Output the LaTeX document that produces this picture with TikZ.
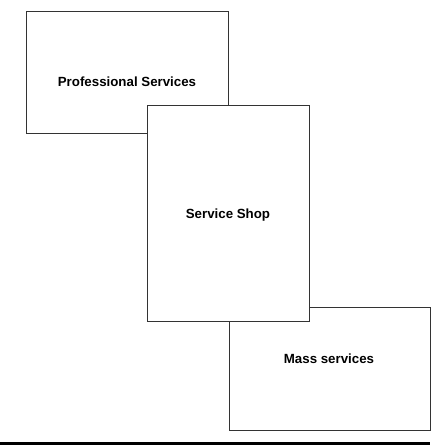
\documentclass[tikz,border=0pt]{standalone}
\usepackage{fontspec}
\setmainfont{Liberation Sans}

\begin{document}
\begin{tikzpicture}[x=1pt,y=1pt,line width=1pt,
  box/.style={draw=black!80,fill=white,inner sep=0pt},
  lbl/.style={font=\fontsize{13.3}{16}\selectfont\bfseries,anchor=base}]
\useasboundingbox (0,0) rectangle (433,445);
% ---------- professional services ----------
\node[box,minimum width=202pt,minimum height=122pt] (prof) at (127,372) {};
\node[lbl] (proflbl) at (127,358) {Professional Services};
% ---------- mass services ----------
\node[box,minimum width=201pt,minimum height=123pt] (mass) at (329.5,75.5) {};
\node[lbl] (masslbl) at (329,81) {Mass services};
% ---------- service shop (on top) ----------
\node[box,minimum width=162pt,minimum height=216pt] (shop) at (228,231) {};
\node[lbl] (shoplbl) at (228,226) {Service Shop};
% base rule
\coordinate (rulel) at (0,1.7);
\coordinate (ruler) at (430,1.7);
\draw[line width=2.5pt] (rulel) -- (ruler);
\end{tikzpicture}
\end{document}
